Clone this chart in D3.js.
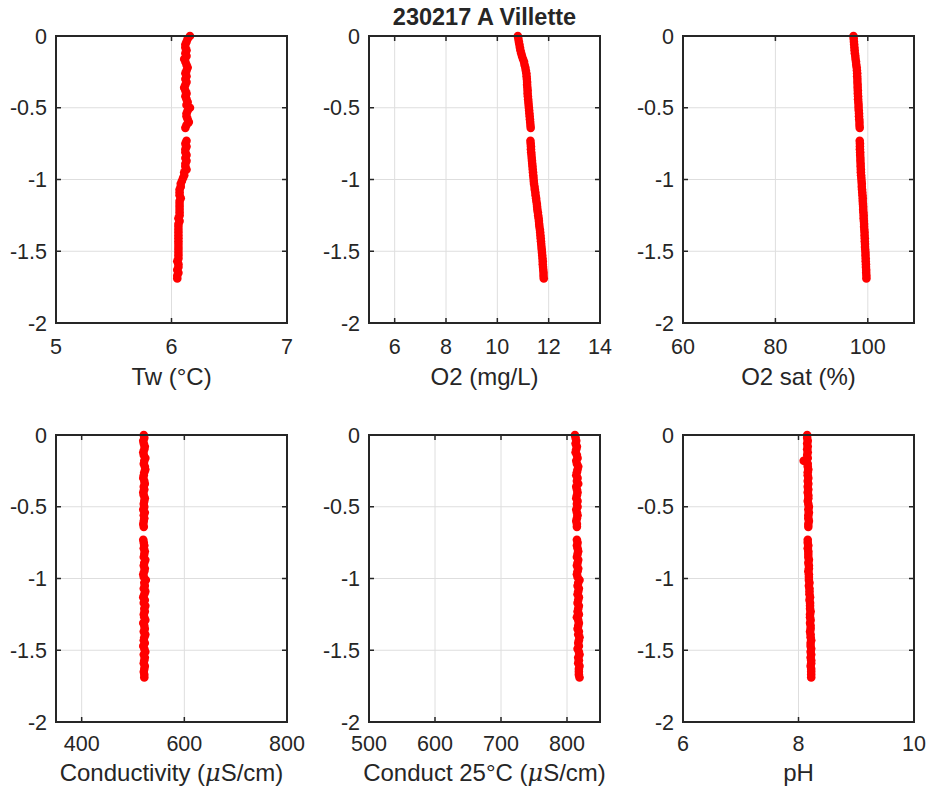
<!DOCTYPE html>
<html>
<head>
<meta charset="utf-8">
<script src="https://cdn.jsdelivr.net/npm/d3@7"></script>
<style>
  html, body { margin: 0; padding: 0; background: #ffffff; }
  svg { display: block; }
  text { font-family: "Liberation Sans", Arial, Helvetica, sans-serif; fill: #262626; }
</style>
</head>
<body>
<div id="chart"></div>
<script>
// ---------------- data ----------------
const title = "230217 A Villette";

const depth = [
  0, -0.02, -0.04, -0.06, -0.08, -0.10, -0.12, -0.14, -0.16, -0.18,
  -0.20, -0.22, -0.24, -0.26, -0.28, -0.30, -0.32, -0.34, -0.36, -0.38,
  -0.40, -0.42, -0.44, -0.46, -0.48, -0.50, -0.52, -0.54, -0.56, -0.58,
  -0.60, -0.62, -0.64,
  -0.73, -0.75, -0.77, -0.79, -0.81, -0.83, -0.85, -0.87, -0.89, -0.91,
  -0.93, -0.95, -0.97, -0.99, -1.01, -1.03, -1.05, -1.07, -1.09, -1.11,
  -1.13, -1.15, -1.17, -1.19, -1.21, -1.23, -1.25, -1.27, -1.29, -1.31,
  -1.33, -1.35, -1.37, -1.39, -1.41, -1.43, -1.45, -1.47, -1.49, -1.51,
  -1.53, -1.55, -1.57, -1.59, -1.61, -1.63, -1.65, -1.67, -1.69
];

const tw = [
  6.16, 6.14, 6.13, 6.12, 6.12, 6.13, 6.12, 6.13, 6.11, 6.12,
  6.13, 6.14, 6.13, 6.12, 6.13, 6.12, 6.13, 6.12, 6.11, 6.12,
  6.13, 6.12, 6.13, 6.14, 6.13, 6.16, 6.14, 6.13, 6.13, 6.14,
  6.15, 6.13, 6.12,
  6.13, 6.12, 6.13, 6.12, 6.12, 6.13, 6.12, 6.13, 6.12, 6.12,
  6.13, 6.11, 6.11, 6.10, 6.09, 6.08, 6.08, 6.07, 6.07, 6.07,
  6.08, 6.07, 6.07, 6.07, 6.07, 6.07, 6.07, 6.06, 6.07, 6.06,
  6.06, 6.06, 6.06, 6.06, 6.06, 6.06, 6.06, 6.06, 6.06, 6.06,
  6.06, 6.06, 6.05, 6.06, 6.06, 6.05, 6.06, 6.05, 6.05
];

const o2 = [
  10.80, 10.82, 10.84, 10.86, 10.88, 10.90, 10.93, 10.96, 11.00, 11.04,
  11.06, 11.09, 11.11, 11.13, 11.14, 11.15, 11.16, 11.16, 11.17, 11.18,
  11.18, 11.19, 11.20, 11.21, 11.22, 11.23, 11.24, 11.25, 11.26, 11.27,
  11.28, 11.29, 11.30,
  11.29, 11.30, 11.31, 11.31, 11.32, 11.33, 11.34, 11.35, 11.36, 11.37,
  11.38, 11.39, 11.40, 11.41, 11.42, 11.43, 11.45, 11.46, 11.48, 11.49,
  11.51, 11.52, 11.54, 11.55, 11.56, 11.58, 11.59, 11.61, 11.62, 11.63,
  11.64, 11.66, 11.67, 11.68, 11.69, 11.70, 11.71, 11.72, 11.73, 11.74,
  11.75, 11.76, 11.77, 11.77, 11.78, 11.79, 11.80, 11.80, 11.81
];

const o2sat = [
  96.9, 96.95, 97.0, 97.05, 97.1, 97.15, 97.2, 97.3, 97.35, 97.45,
  97.5, 97.6, 97.65, 97.7, 97.7, 97.75, 97.75, 97.8, 97.8, 97.85,
  97.85, 97.9, 97.9, 97.95, 98.0, 98.0, 98.05, 98.1, 98.1, 98.15,
  98.2, 98.2, 98.25,
  98.25, 98.3, 98.3, 98.3, 98.35, 98.35, 98.4, 98.4, 98.45, 98.45,
  98.5, 98.5, 98.55, 98.6, 98.65, 98.7, 98.7, 98.75, 98.8, 98.85,
  98.9, 98.9, 98.95, 99.0, 99.0, 99.05, 99.1, 99.1, 99.15, 99.2,
  99.2, 99.25, 99.3, 99.3, 99.35, 99.35, 99.4, 99.4, 99.45, 99.5,
  99.5, 99.55, 99.55, 99.6, 99.6, 99.65, 99.65, 99.7, 99.7
];

const conductivity = [
  521, 522, 520, 521, 523, 522, 520, 521, 524, 522,
  521, 523, 524, 522, 521, 520, 522, 523, 521, 522,
  520, 521, 523, 522, 521, 522, 520, 523, 521, 522,
  521, 520, 521,
  520, 521, 522, 521, 523, 522, 521, 524, 522, 521,
  523, 522, 520, 521, 525, 522, 523, 521, 524, 522,
  520, 523, 521, 524, 522, 523, 521, 522, 524, 520,
  522, 523, 521, 524, 522, 521, 523, 520, 522, 524,
  521, 523, 522, 521, 523, 522, 521, 522, 522
];

const conduct25 = [
  812, 813, 814, 813, 815, 814, 813, 815, 816, 814,
  815, 817, 816, 815, 814, 816, 815, 817, 814, 815,
  816, 815, 814, 816, 815, 816, 814, 815, 816, 815,
  814, 815, 815,
  815, 816, 815, 816, 817, 816, 815, 817, 816, 815,
  817, 816, 815, 816, 819, 817, 816, 818, 817, 816,
  818, 817, 816, 818, 817, 816, 818, 815, 817, 818,
  817, 816, 818, 817, 819, 818, 817, 818, 816, 818,
  819, 817, 818, 817, 819, 818, 818, 818, 819
];

const ph = [
  8.15, 8.15, 8.16, 8.15, 8.16, 8.15, 8.16, 8.15, 8.16, 8.09,
  8.16, 8.16, 8.17, 8.16, 8.16, 8.17, 8.16, 8.17, 8.16, 8.17,
  8.16, 8.17, 8.17, 8.16, 8.17, 8.18, 8.17, 8.18, 8.17, 8.17,
  8.18, 8.17, 8.17,
  8.16, 8.16, 8.17, 8.16, 8.17, 8.17, 8.17, 8.18, 8.17, 8.18,
  8.18, 8.17, 8.18, 8.18, 8.18, 8.19, 8.18, 8.19, 8.19, 8.19,
  8.20, 8.19, 8.20, 8.20, 8.20, 8.21, 8.20, 8.20, 8.21, 8.20,
  8.21, 8.21, 8.20, 8.21, 8.21, 8.22, 8.21, 8.21, 8.22, 8.21,
  8.22, 8.21, 8.22, 8.22, 8.21, 8.22, 8.22, 8.22, 8.22
];

const yDomain = [-2, 0];
const yTicks = [0, -0.5, -1, -1.5, -2];
const yTickLabels = ["0", "-0.5", "-1", "-1.5", "-2"];

const xLabels = ["Tw (°C)", "O2 (mg/L)", "O2 sat (%)", "Conductivity (μS/cm)", "Conduct 25°C (μS/cm)", "pH"];
const xDomains = [[5, 7], [5, 14], [60, 110], [350, 800], [500, 850], [6, 10]];
const xTicks = [[5, 6, 7], [6, 8, 10, 12, 14], [60, 80, 100], [400, 600, 800], [500, 600, 700, 800], [6, 8, 10]];
const xTickLabels = [["5", "6", "7"], ["6", "8", "10", "12", "14"], ["60", "80", "100"], ["400", "600", "800"], ["500", "600", "700", "800"], ["6", "8", "10"]];
const seriesValues = [tw, o2, o2sat, conductivity, conduct25, ph];

// ---------------- layout ----------------
const W = 933, H = 796;
const panelLefts = [56, 369, 683];
const panelTops = [36, 435];
const pw = 231, ph_ = 287;
const tickFont = 21.5, labelFont = 24, titleFont = 23.5;
const tickLabelOffset = [30.5, 29];
const axisLabelOffset = [61.5, 58.5];
const ink = "#262626", gridColor = "#dedede", red = "#ff0000";

const svg = d3.select("#chart").append("svg")
  .attr("width", W).attr("height", H)
  .attr("viewBox", `0 0 ${W} ${H}`);

svg.append("rect").attr("width", W).attr("height", H).attr("fill", "#fff");

seriesValues.forEach((vals, k) => {
  const row = Math.floor(k / 3), col = k % 3;
  const x0 = panelLefts[col], y0 = panelTops[row];
  const xs = d3.scaleLinear().domain(xDomains[k]).range([x0, x0 + pw]);
  const ys = d3.scaleLinear().domain(yDomain).range([y0 + ph_, y0]);
  const g = svg.append("g");

  // grid
  g.selectAll(".gx").data(xTicks[k]).join("line")
    .attr("x1", d => xs(d)).attr("x2", d => xs(d))
    .attr("y1", y0).attr("y2", y0 + ph_)
    .attr("stroke", gridColor).attr("stroke-width", 1);
  g.selectAll(".gy").data(yTicks).join("line")
    .attr("x1", x0).attr("x2", x0 + pw)
    .attr("y1", d => ys(d)).attr("y2", d => ys(d))
    .attr("stroke", gridColor).attr("stroke-width", 1);

  // points
  const pts = depth.map((d, i) => [vals[i], d]).filter(p => p[0] !== undefined);
  g.selectAll("circle").data(pts).join("circle")
    .attr("cx", p => xs(p[0])).attr("cy", p => ys(p[1]))
    .attr("r", 4.3).attr("fill", red);

  // ticks (inward, all sides)
  const tl = 5;
  xTicks[k].forEach(t => {
    g.append("line").attr("x1", xs(t)).attr("x2", xs(t)).attr("y1", y0 + ph_).attr("y2", y0 + ph_ - tl).attr("stroke", ink).attr("stroke-width", 1.5);
    g.append("line").attr("x1", xs(t)).attr("x2", xs(t)).attr("y1", y0).attr("y2", y0 + tl).attr("stroke", ink).attr("stroke-width", 1.5);
  });
  yTicks.forEach(t => {
    g.append("line").attr("x1", x0).attr("x2", x0 + tl).attr("y1", ys(t)).attr("y2", ys(t)).attr("stroke", ink).attr("stroke-width", 1.5);
    g.append("line").attr("x1", x0 + pw).attr("x2", x0 + pw - tl).attr("y1", ys(t)).attr("y2", ys(t)).attr("stroke", ink).attr("stroke-width", 1.5);
  });

  // box
  g.append("rect").attr("x", x0).attr("y", y0).attr("width", pw).attr("height", ph_)
    .attr("fill", "none").attr("stroke", ink).attr("stroke-width", 2);

  // tick labels
  g.selectAll(".xt").data(xTicks[k]).join("text")
    .attr("x", d => xs(d)).attr("y", y0 + ph_ + tickLabelOffset[row])
    .attr("text-anchor", "middle").attr("font-size", tickFont)
    .text((d, i) => xTickLabels[k][i]);
  g.selectAll(".yt").data(yTicks).join("text")
    .attr("x", x0 - 9).attr("y", d => ys(d)).attr("dy", "0.36em")
    .attr("text-anchor", "end").attr("font-size", tickFont)
    .text((d, i) => yTickLabels[i]);

  // axis label (μ rendered italic as in TeX)
  const lab = g.append("text")
    .attr("x", x0 + pw / 2).attr("y", y0 + ph_ + axisLabelOffset[row])
    .attr("text-anchor", "middle").attr("font-size", labelFont);
  const parts = xLabels[k].split("μ");
  parts.forEach((p, i) => {
    if (i > 0) lab.append("tspan").attr("font-style", "italic").attr("font-family", "'DejaVu Serif', serif").text("μ");
    lab.append("tspan").text(p);
  });
});

// title
svg.append("text")
  .attr("x", panelLefts[1] + pw / 2).attr("y", 25)
  .attr("text-anchor", "middle").attr("font-size", titleFont).attr("font-weight", "bold")
  .text(title);
</script>
</body>
</html>
